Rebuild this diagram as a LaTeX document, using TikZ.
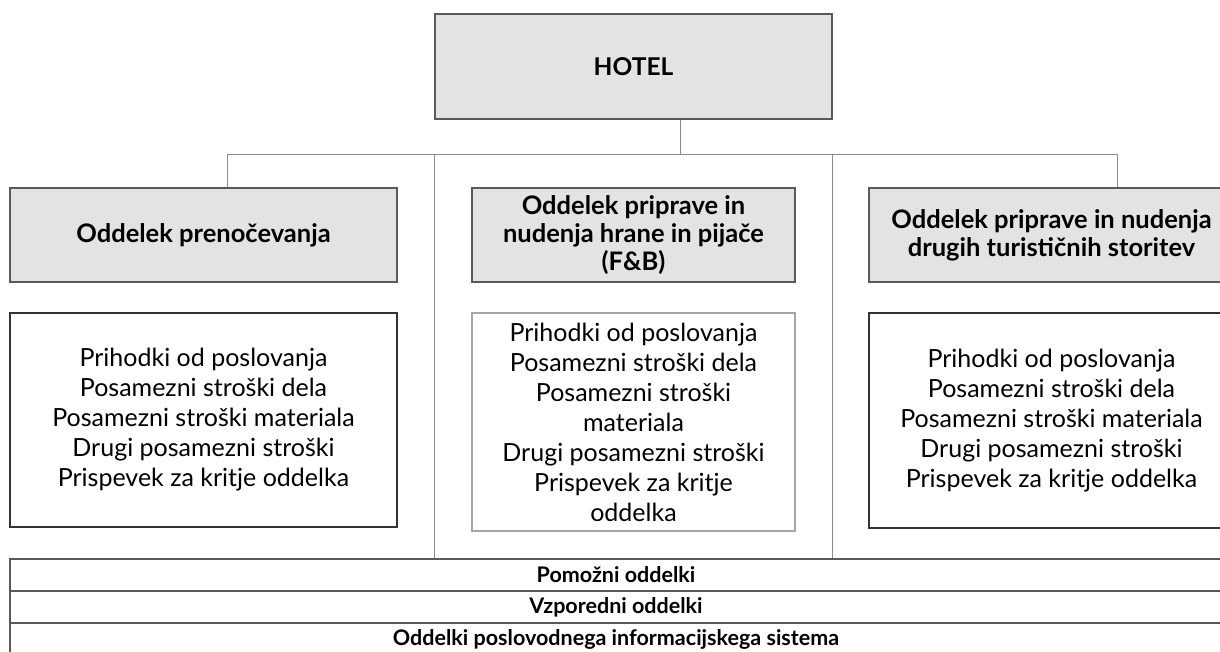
\documentclass[tikz,border=0pt]{standalone}
\usepackage{fontspec}
\setmainfont{Lato}
\usepackage{tikz}
\pgfdeclarelayer{bg}
\pgfsetlayers{bg,main}
\definecolor{boxgray}{HTML}{E3E3E3}
\definecolor{linegray}{HTML}{8A8A8A}
\definecolor{framegray}{HTML}{5A5A5A}

\begin{document}
\begin{tikzpicture}[x=1pt, y=-1pt,
        head/.style={draw=framegray, line width=1.3pt, fill=boxgray, inner sep=0pt,
                align=center, font=\fontsize{25.5}{28}\selectfont\bfseries},
        items/.style={draw=black!80, line width=1.1pt, fill=white, inner sep=0pt,
                align=center, font=\fontsize{25}{30}\selectfont},
        row/.style={draw=framegray, line width=1.6pt, inner sep=0pt, minimum width=1212pt,
                minimum height=32pt, font=\fontsize{21.5}{24}\selectfont\bfseries},
        link/.style={draw=linegray, line width=1pt}]
        \useasboundingbox (0, 0) rectangle (1220, 651);
        \clip (0, 0) rectangle (1220, 651);
        \node (hotel) [head, font=\fontsize{24.5}{28}\selectfont\bfseries, minimum width=397pt, minimum height=105pt] at (633.5, 66.5) {HOTEL};
        \node (prenoc) [head, minimum width=387pt, minimum height=94pt] at (203.5, 235) {Oddelek prenočevanja};
        \node (fb) [head, minimum width=323pt, minimum height=94pt] at (633.5, 235) {Oddelek priprave in\\nudenja hrane in pijače\\(F\&B)};
        \node (turist) [head, minimum width=365pt, minimum height=94pt] at (1051.5, 235) {Oddelek priprave in nudenja\\drugih turističnih storitev};
        \node (prenocdet) [items, minimum width=387pt, minimum height=214pt] at (203.5, 420) {Prihodki od poslovanja\\Posamezni stroški dela\\Posamezni stroški materiala\\Drugi posamezni stroški\\Prispevek za kritje oddelka};
        \node (fbdet) [items, draw=black!35, minimum width=323pt, minimum height=218pt] at (633.5, 422) {Prihodki od poslovanja\\Posamezni stroški dela\\Posamezni stroški\\materiala\\Drugi posamezni stroški\\Prispevek za kritje\\oddelka};
        \node (turistdet) [items, minimum width=365pt, minimum height=215pt] at (1051.5, 420.5) {Prihodki od poslovanja\\Posamezni stroški dela\\Posamezni stroški materiala\\Drugi posamezni stroški\\Prispevek za kritje oddelka};
        \node (pomozni) [row] at (616, 575) {Pomožni oddelki};
        \node (vzpor) [row] at (616, 607) {Vzporedni oddelki};
        \node (info) [row] at (616, 639) {Oddelki poslovodnega informacijskega sistema};
        \coordinate (bus) at (680, 154);
        \coordinate (busl) at (227, 154);
        \coordinate (busr) at (1117, 154);
        \begin{pgfonlayer}{bg}
                \draw (hotel.south -| bus) edge [link] (bus);
                \draw (busl) edge [link] (busr);
                \draw (busl) edge [link] (busl |- prenoc.north);
                \draw (busr) edge [link] (busr |- turist.north);
                \draw (hotel.south west |- bus) edge [link] (hotel.south west |- pomozni.north);
                \draw (hotel.south east |- bus) edge [link] (hotel.south east |- pomozni.north);
        \end{pgfonlayer}
\end{tikzpicture}
\end{document}
